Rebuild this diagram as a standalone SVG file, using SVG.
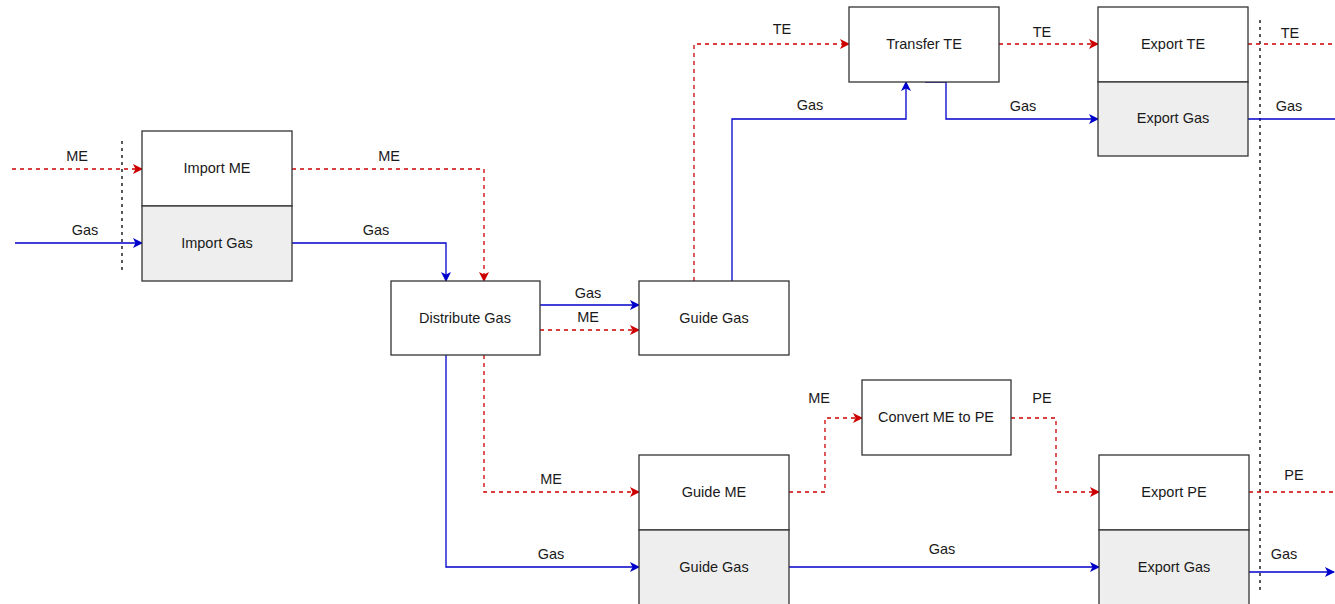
<svg xmlns="http://www.w3.org/2000/svg" width="1335" height="604" viewBox="0 0 1335 604">
<style>
.box{fill:#ffffff;stroke:#333333;stroke-width:1.3}
.gbox{fill:#eeeeee;stroke:#333333;stroke-width:1.3}
text{font-family:"Liberation Sans",Arial,sans-serif;font-size:14.5px;fill:#1a1a1a;text-anchor:middle;dominant-baseline:central}
.me{fill:none;stroke:#cc0000;stroke-width:1.3;stroke-dasharray:4 4}
.gas{fill:none;stroke:#0000cc;stroke-width:1.3}
.bnd{fill:none;stroke:#000000;stroke-width:1.3;stroke-dasharray:3 4}
</style>
<defs>
<marker id="ar" viewBox="0 0 10 10" refX="9" refY="5" markerWidth="10" markerHeight="10" markerUnits="userSpaceOnUse" orient="auto"><path d="M0,0 L10,5 L0,10 L2.5,5 Z" fill="#cc0000"/></marker>
<marker id="ab" viewBox="0 0 10 10" refX="9" refY="5" markerWidth="10" markerHeight="10" markerUnits="userSpaceOnUse" orient="auto"><path d="M0,0 L10,5 L0,10 L2.5,5 Z" fill="#0000cc"/></marker>
</defs>
<g id="boundaries">
<line class="bnd" x1="122" y1="141" x2="122" y2="272"/>
<line class="bnd" x1="1260" y1="20" x2="1260" y2="592"/>
</g>
<g id="connectors">
<path class="me" d="M12,169 H142" marker-end="url(#ar)"/>
<path class="gas" d="M15,243 H142" marker-end="url(#ab)"/>
<path class="me" d="M292,169 H484 V281" marker-end="url(#ar)"/>
<path class="gas" d="M292,243 H446 V281" marker-end="url(#ab)"/>
<path class="gas" d="M540,305 H639" marker-end="url(#ab)"/>
<path class="me" d="M540,330 H639" marker-end="url(#ar)"/>
<path class="me" d="M694,281 V44 H849" marker-end="url(#ar)"/>
<path class="gas" d="M732,281 V119 H906 V82" marker-end="url(#ab)"/>
<path class="me" d="M999,44 H1098" marker-end="url(#ar)"/>
<path class="gas" d="M925,82 H946 V119 H1098" marker-end="url(#ab)"/>
<path class="me" d="M1248,44 H1335"/>
<path class="gas" d="M1248,119 H1335"/>
<path class="me" d="M484,355 V492 H639" marker-end="url(#ar)"/>
<path class="gas" d="M446,355 V567 H639" marker-end="url(#ab)"/>
<path class="me" d="M789,492 H825 V418 H862" marker-end="url(#ar)"/>
<path class="me" d="M1011,418 H1056 V492 H1099" marker-end="url(#ar)"/>
<path class="gas" d="M789,567 H1099" marker-end="url(#ab)"/>
<path class="me" d="M1249,492 H1335"/>
<path class="gas" d="M1249,572 H1334" marker-end="url(#ab)"/>
<text x="77" y="156">ME</text>
<text x="85" y="230">Gas</text>
<text x="389" y="156">ME</text>
<text x="376" y="230">Gas</text>
<text x="588" y="293">Gas</text>
<text x="588" y="317">ME</text>
<text x="782" y="29">TE</text>
<text x="810" y="105">Gas</text>
<text x="1042" y="32">TE</text>
<text x="1023" y="106">Gas</text>
<text x="1290" y="33">TE</text>
<text x="1289" y="106">Gas</text>
<text x="551" y="479">ME</text>
<text x="551" y="554">Gas</text>
<text x="819" y="398">ME</text>
<text x="1042" y="398">PE</text>
<text x="942" y="549">Gas</text>
<text x="1294" y="475">PE</text>
<text x="1284" y="554">Gas</text>
</g>
<g id="import-me"><rect class="box" x="142" y="131" width="150" height="75"/><text x="217" y="168">Import ME</text></g>
<g id="import-gas"><rect class="gbox" x="142" y="206" width="150" height="75"/><text x="217" y="243">Import Gas</text></g>
<g id="distribute-gas"><rect class="box" x="391" y="281" width="149" height="74"/><text x="465" y="318">Distribute Gas</text></g>
<g id="guide-gas-top"><rect class="box" x="639" y="281" width="150" height="74"/><text x="714" y="318">Guide Gas</text></g>
<g id="transfer-te"><rect class="box" x="849" y="7" width="150" height="75"/><text x="924" y="44">Transfer TE</text></g>
<g id="export-te"><rect class="box" x="1098" y="7" width="150" height="75"/><text x="1173" y="44">Export TE</text></g>
<g id="export-gas-top"><rect class="gbox" x="1098" y="82" width="150" height="74"/><text x="1173" y="118">Export Gas</text></g>
<g id="convert-me-pe"><rect class="box" x="862" y="380" width="149" height="75"/><text x="936" y="417">Convert ME to PE</text></g>
<g id="guide-me"><rect class="box" x="639" y="455" width="150" height="75"/><text x="714" y="492">Guide ME</text></g>
<g id="guide-gas-bottom"><rect class="gbox" x="639" y="530" width="150" height="76"/><text x="714" y="567">Guide Gas</text></g>
<g id="export-pe"><rect class="box" x="1099" y="455" width="150" height="75"/><text x="1174" y="492">Export PE</text></g>
<g id="export-gas-bottom"><rect class="gbox" x="1099" y="530" width="150" height="76"/><text x="1174" y="567">Export Gas</text></g>
</svg>
